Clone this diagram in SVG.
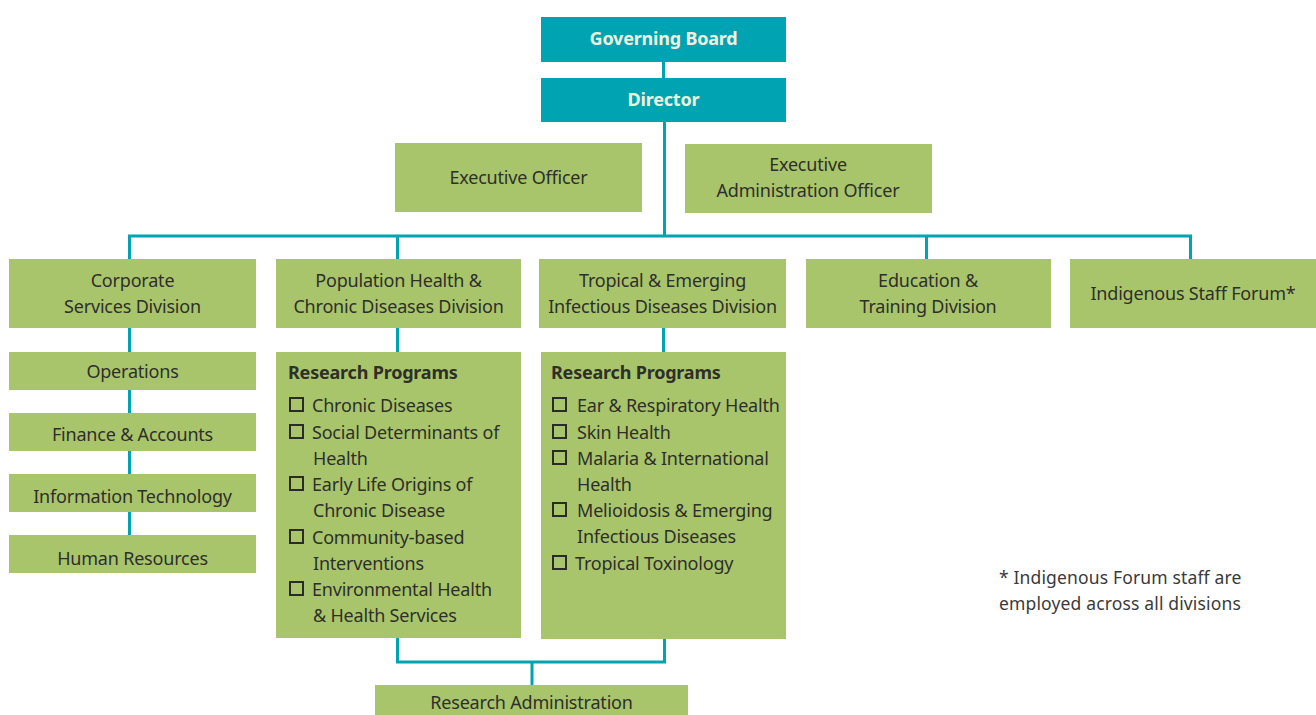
<svg xmlns="http://www.w3.org/2000/svg" width="1316" height="715" viewBox="0 0 1316 715">
  <style>
    .teal { fill: #00a3b1; }
    .green { fill: #a8c56c; }
    .lbl { font-family: "Noto Sans", "Open Sans", sans-serif; font-size: 18px; letter-spacing: -0.2px; fill: #2f2f2a; text-anchor: middle; }
    .hd { font-family: "Noto Sans", "Open Sans", sans-serif; font-size: 18px; letter-spacing: -0.2px; font-weight: bold; fill: #eef2dc; text-anchor: middle; }
    .rph { font-family: "Noto Sans", "Open Sans", sans-serif; font-size: 18px; letter-spacing: -0.2px; font-weight: bold; fill: #2f2f2a; }
    .item { font-family: "Noto Sans", "Open Sans", sans-serif; font-size: 18px; letter-spacing: -0.2px; fill: #2f2f2a; }
    .box { fill: none; stroke: #2a2a26; stroke-width: 2; }
    .note { font-family: "Noto Sans", "Open Sans", sans-serif; font-size: 17.5px; letter-spacing: 0.15px; fill: #3a3a3a; }
    .conn { fill: none; stroke: #00a3b1; stroke-width: 3; }
  </style>

  <!-- connectors -->
  <g id="connectors" class="conn">
    <line x1="663.5" y1="62" x2="663.5" y2="78"/>
    <line x1="664.5" y1="122" x2="664.5" y2="236"/>
    <polyline points="129.5,259 129.5,236 1190.5,236 1190.5,259"/>
    <line x1="397.5" y1="236" x2="397.5" y2="259"/>
    <line x1="926.5" y1="236" x2="926.5" y2="259"/>
    <line x1="129.5" y1="328" x2="129.5" y2="535"/>
    <line x1="397.5" y1="328" x2="397.5" y2="352"/>
    <line x1="663.5" y1="328" x2="663.5" y2="352"/>
    <polyline points="397.5,638 397.5,662 664.5,662 664.5,639"/>
    <line x1="532" y1="662" x2="532" y2="685"/>
  </g>

  <g id="governing-board">
    <rect class="teal" x="541" y="17" width="245" height="45"/>
    <text class="hd" x="663.5" y="45">Governing Board</text>
  </g>
  <g id="director">
    <rect class="teal" x="541" y="78" width="245" height="44"/>
    <text class="hd" x="663.5" y="106">Director</text>
  </g>
  <g id="executive-officer">
    <rect class="green" x="395" y="143" width="247" height="69"/>
    <text class="lbl" x="518.5" y="184">Executive Officer</text>
  </g>
  <g id="executive-admin-officer">
    <rect class="green" x="685" y="144" width="247" height="69"/>
    <text class="lbl" x="808" y="171">Executive</text>
    <text class="lbl" x="808" y="197">Administration Officer</text>
  </g>

  <g id="corporate-services">
    <rect class="green" x="9" y="259" width="247" height="69"/>
    <text class="lbl" x="132.5" y="287">Corporate</text>
    <text class="lbl" x="132.5" y="313">Services Division</text>
  </g>
  <g id="population-health">
    <rect class="green" x="276" y="259" width="245" height="69"/>
    <text class="lbl" x="398.5" y="287">Population Health &amp;</text>
    <text class="lbl" x="398.5" y="313">Chronic Diseases Division</text>
  </g>
  <g id="tropical-diseases">
    <rect class="green" x="539" y="259" width="247" height="69"/>
    <text class="lbl" x="662.5" y="287">Tropical &amp; Emerging</text>
    <text class="lbl" x="662.5" y="313">Infectious Diseases Division</text>
  </g>
  <g id="education-training">
    <rect class="green" x="806" y="259" width="245" height="69"/>
    <text class="lbl" x="928" y="287">Education &amp;</text>
    <text class="lbl" x="928" y="313">Training Division</text>
  </g>
  <g id="indigenous-forum">
    <rect class="green" x="1070" y="259" width="246" height="69"/>
    <text class="lbl" x="1193" y="300">Indigenous Staff Forum*</text>
  </g>

  <g id="operations">
    <rect class="green" x="9" y="352" width="247" height="38"/>
    <text class="lbl" x="132.5" y="378">Operations</text>
  </g>
  <g id="finance">
    <rect class="green" x="9" y="413" width="247" height="38"/>
    <text class="lbl" x="132.5" y="441">Finance &amp; Accounts</text>
  </g>
  <g id="information-technology">
    <rect class="green" x="9" y="474" width="247" height="38"/>
    <text class="lbl" x="132.5" y="503">Information Technology</text>
  </g>
  <g id="human-resources">
    <rect class="green" x="9" y="535" width="247" height="38"/>
    <text class="lbl" x="132.5" y="565">Human Resources</text>
  </g>

  <g id="population-programs">
    <rect class="green" x="276" y="352" width="245" height="286"/>
    <text class="rph" x="288" y="379">Research Programs</text>
    <rect class="box" x="290" y="398" width="13" height="13"/>
    <text class="item" x="312" y="412">Chronic Diseases</text>
    <rect class="box" x="290" y="425" width="13" height="13"/>
    <text class="item" x="312" y="439">Social Determinants of</text>
    <text class="item" x="313" y="465">Health</text>
    <rect class="box" x="290" y="477" width="13" height="13"/>
    <text class="item" x="312" y="491">Early Life Origins of</text>
    <text class="item" x="313" y="517">Chronic Disease</text>
    <rect class="box" x="290" y="530" width="13" height="13"/>
    <text class="item" x="312" y="544">Community-based</text>
    <text class="item" x="313" y="570">Interventions</text>
    <rect class="box" x="290" y="582" width="13" height="13"/>
    <text class="item" x="312" y="596">Environmental Health</text>
    <text class="item" x="313" y="622">&amp; Health Services</text>
  </g>

  <g id="tropical-programs">
    <rect class="green" x="541" y="352" width="245" height="287"/>
    <text class="rph" x="551" y="379">Research Programs</text>
    <rect class="box" x="553" y="398" width="13" height="13"/>
    <text class="item" x="577" y="412">Ear &amp; Respiratory Health</text>
    <rect class="box" x="553" y="425" width="13" height="13"/>
    <text class="item" x="577" y="439">Skin Health</text>
    <rect class="box" x="553" y="451" width="13" height="13"/>
    <text class="item" x="577" y="465">Malaria &amp; International</text>
    <text class="item" x="577" y="491">Health</text>
    <rect class="box" x="553" y="503" width="13" height="13"/>
    <text class="item" x="577" y="517">Melioidosis &amp; Emerging</text>
    <text class="item" x="577" y="543">Infectious Diseases</text>
    <rect class="box" x="553" y="556" width="13" height="13"/>
    <text class="item" x="575" y="570">Tropical Toxinology</text>
  </g>

  <g id="research-administration">
    <rect class="green" x="375" y="685" width="313" height="30"/>
    <text class="lbl" x="531.5" y="709">Research Administration</text>
  </g>

  <g id="footnote">
    <text class="note" x="999" y="584">* Indigenous Forum staff are</text>
    <text class="note" x="999" y="610">employed across all divisions</text>
  </g>
</svg>
